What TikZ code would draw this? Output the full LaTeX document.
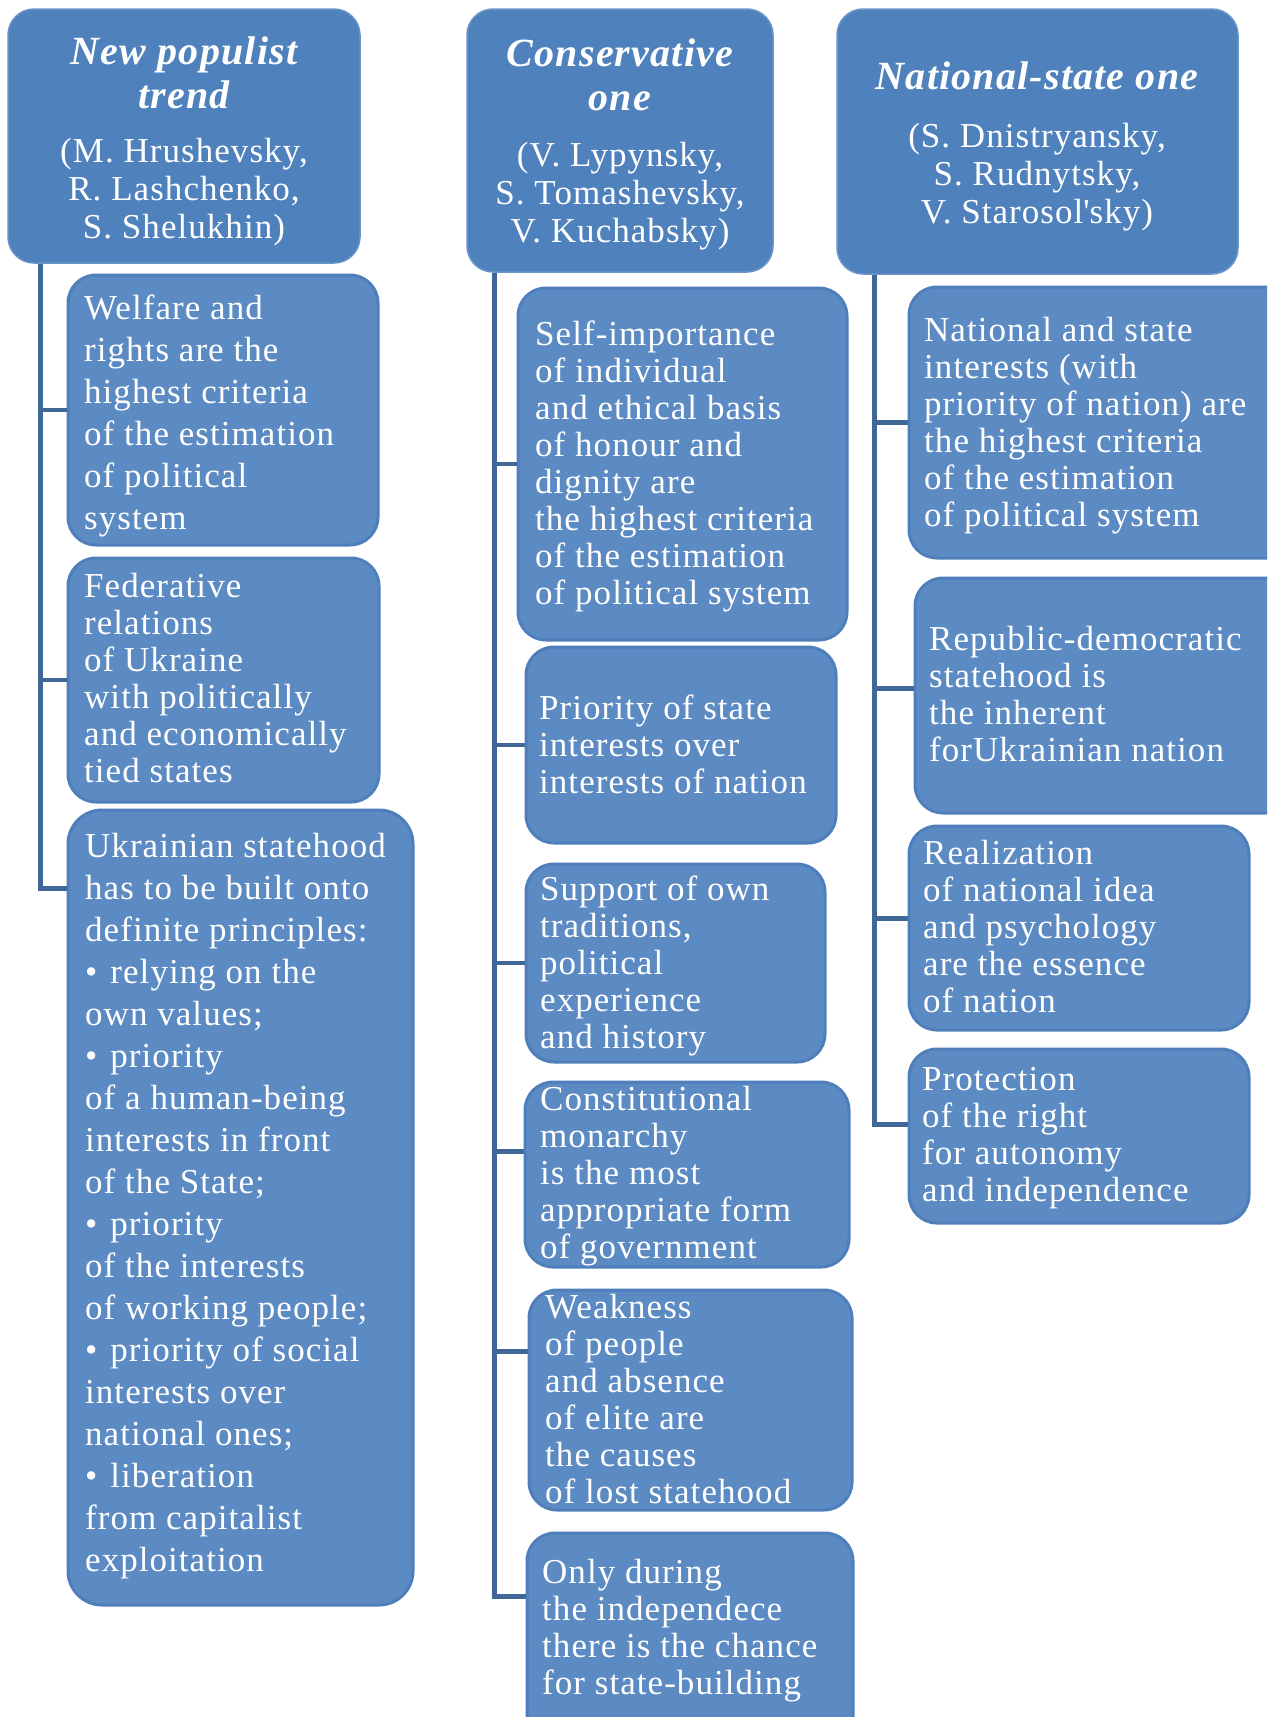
\documentclass[tikz,border=0pt]{standalone}
\usepackage{fontspec}
\setmainfont{Liberation Serif}[LetterSpace=3]
\usetikzlibrary{calc}
\definecolor{hfill}{HTML}{4F81BD}
\definecolor{hedge}{HTML}{6A95C8}
\definecolor{cfill}{HTML}{5C8AC3}
\definecolor{cedge}{HTML}{4E7FBB}
\definecolor{conncol}{HTML}{3F6899}
\newcommand\boxnode[6]{\node[#1, minimum width={#5-#3}, minimum height={#6-#4}] (#2) at ({(#3+#5)/2},{(#4+#6)/2}) {};}
\newcommand\bul{•\hspace{13pt}}
\begin{document}
\begin{tikzpicture}[x=1pt,y=-1pt,
  hbox/.style={draw=hedge, line width=1.5pt, fill=hfill, rounded corners=26pt, inner sep=0pt},
  cbox/.style={draw=cedge, line width=3pt, fill=cfill, rounded corners=28pt, inner sep=0pt},
  conn/.style={draw=conncol, line width=4.5pt},
  btext/.style={text=white, align=left, inner sep=0pt, anchor=north west, font=\fontsize{35}{37}\selectfont},
  btextw/.style={btext, font=\fontsize{35}{42}\selectfont},
  ttext/.style={text=white, align=center, inner sep=0pt, anchor=north, font=\fontsize{40}{44}\selectfont\bfseries\itshape},
  ntext/.style={text=white, align=center, inner sep=0pt, anchor=north, font=\fontsize{35}{38}\selectfont}]
\useasboundingbox (0,0) rectangle (1267,1717);
\clip (0,0) rectangle (1267,1717);
\fill[white] (0,0) rectangle (1267,1717);

% headers
\boxnode{hbox}{h1}{8}{9}{360}{263}
\boxnode{hbox}{h2}{467}{9}{773}{272}
\boxnode{hbox}{h3}{837}{9}{1238}{274}
\node[ttext] (h1t) at (184,37) {New populist\\trend};
\node[ntext] (h1n) at (184,138) {(M. Hrushevsky,\\R. Lashchenko,\\S. Shelukhin)};
\node[ttext] (h2t) at (620,39) {Conservative\\one};
\node[ntext] (h2n) at (620,142) {(V. Lypynsky,\\S. Tomashevsky,\\V. Kuchabsky)};
\node[ttext] (h3t) at (1037,62) {National-state one};
\node[ntext] (h3n) at (1037,123) {(S. Dnistryansky,\\S. Rudnytsky,\\V. Starosol\textquotesingle sky)};

% left column
\boxnode{cbox}{l1}{68}{275}{378}{545}
\boxnode{cbox}{l2}{68}{558}{379}{802}
\node[cbox, rounded corners=34pt, minimum width=345, minimum height=795] (l3) at (240.5,1207.5) {};
\node[btextw] (l1t) at (84,295) {Welfare and\\rights are the\\highest criteria\\of the estimation\\of political\\system};
\node[btext] (l2t) at (84,573) {Federative\\relations\\of Ukraine\\with politically\\and economically\\tied states};
\node[btextw] (l3t) at (85,833) {Ukrainian statehood\\has to be built onto\\definite principles:\\\bul relying on the\\own values;\\\bul priority\\of a human-being\\interests in front\\of the State;\\\bul priority\\of the interests\\of working people;\\\bul priority of social\\interests over\\national ones;\\\bul liberation\\from capitalist\\exploitation};

% middle column
\boxnode{cbox}{m1}{518}{288}{847}{640}
\boxnode{cbox}{m2}{526}{647}{836}{843}
\boxnode{cbox}{m3}{526}{864}{825}{1062}
\boxnode{cbox}{m4}{525}{1082}{849}{1267}
\boxnode{cbox}{m5}{529}{1290}{852}{1510}
\boxnode{cbox}{m6}{527}{1533}{853}{1770}
\node[btext] (m1t) at (535,321) {Self-importance\\of individual\\and ethical basis\\of honour and\\dignity are\\the highest criteria\\of the estimation\\of political system};
\node[btext] (m2t) at (539,695) {Priority of state\\interests over\\interests of nation};
\node[btext] (m3t) at (540,876) {Support of own\\traditions,\\political\\experience\\and history};
\node[btext] (m4t) at (540,1086) {Constitutional\\monarchy\\is the most\\appropriate form\\of government};
\node[btext] (m5t) at (545,1294) {Weakness\\of people\\and absence\\of elite are\\the causes\\of lost statehood};
\node[btext] (m6t) at (542,1559) {Only during\\the independece\\there is the chance\\for state-building};

% right column
\boxnode{cbox}{r1}{909}{287}{1300}{558}
\boxnode{cbox}{r2}{915}{578}{1300}{813}
\boxnode{cbox}{r3}{909}{826}{1249}{1030}
\boxnode{cbox}{r4}{909}{1049}{1249}{1223}
\node[btext] (r1t) at (924,317) {National and state\\interests (with\\priority of nation) are\\the highest criteria\\of the estimation\\of political system};
\node[btext] (r2t) at (929,626) {Republic-democratic\\statehood is\\the inherent\\forUkrainian nation};
\node[btext] (r3t) at (923,840) {Realization\\of national idea\\and psychology\\are the essence\\of nation};
\node[btext] (r4t) at (922,1067) {Protection\\of the right\\for autonomy\\and independence};

% connectors
\coordinate (tA) at ($(h1.south west)+(33,0)$);
\coordinate (tB) at ($(h2.south west)+(28,0)$);
\coordinate (tC) at ($(h3.south west)+(38,0)$);
\draw[conn] (tA) |- ($(l3.north west)+(0,80)$);
\draw[conn] (tA |- l1.west) -- (l1.west);
\draw[conn] (tA |- l2.west) -- (l2.west);

\draw[conn] (tB) |- ($(m6.north west)+(0,65)$);
\draw[conn] (tB |- m1.west) -- (m1.west);
\draw[conn] (tB |- m2.west) -- (m2.west);
\draw[conn] (tB |- m3.west) -- (m3.west);
\draw[conn] ($(tB |- m4.north west)+(0,71)$) -- ($(m4.north west)+(0,71)$);
\draw[conn] ($(tB |- m5.north west)+(0,63)$) -- ($(m5.north west)+(0,63)$);

\draw[conn] (tC) |- ($(r4.north west)+(0,77)$);
\draw[conn] (tC |- r1.west) -- (r1.west);
\draw[conn] ($(tC |- r2.north west)+(0,112)$) -- ($(r2.north west)+(0,112)$);
\draw[conn] ($(tC |- r3.north west)+(0,94)$) -- ($(r3.north west)+(0,94)$);
\end{tikzpicture}
\end{document}
